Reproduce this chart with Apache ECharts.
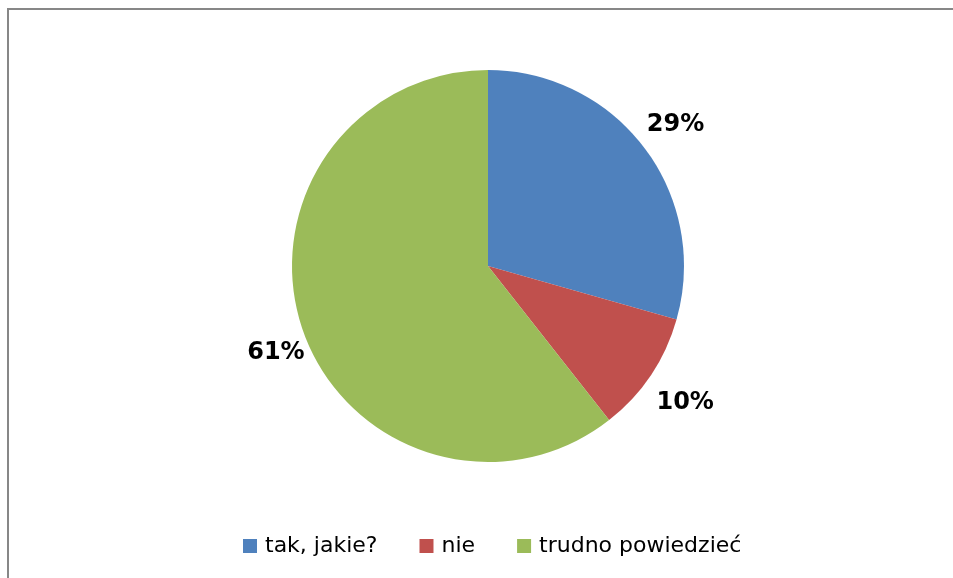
<!DOCTYPE html>
<html>
<head>
<meta charset="utf-8">
<script src="https://cdn.jsdelivr.net/npm/echarts@6/dist/echarts.min.js"></script>
<style>
    html, body {
        margin: 0;
        padding: 0;
        background: #ffffff;
        overflow: hidden;
    }
    .frame {
        position: absolute;
        left: 7px;
        top: 8px;
        width: 1000px;
        height: 700px;
        border-left: 2px solid #878787;
        border-top: 2px solid #878787;
    }
    .chart-container {
        position: absolute;
        left: 0;
        top: 0;
        width: 953px;
        height: 578px;
    }
</style>
</head>
<body>
<div class="frame"></div>
<div class="chart-container" id="chart"></div>
<script>
const categories = ['tak, jakie?', 'nie', 'trudno powiedzieć'];
const shares = [29.4, 10.0, 60.6];
const colors = ['#4f81bd', '#c0504d', '#9bbb59'];
// small nudges so the labels sit where Excel put them
const labelOffsets = [[0, 0], [2, 6], [10, 10]];

const pieData = categories.map((name, i) => ({
    name: name,
    value: shares[i],
    itemStyle: { color: colors[i] }
}));

const chart = echarts.init(document.getElementById('chart'));

chart.setOption({
    animation: false,
    legend: {
        data: categories,
        top: 530,
        left: 238,
        itemWidth: 14,
        itemHeight: 14,
        itemGap: 42,
        icon: 'rect',
        textStyle: {
            fontFamily: 'DejaVu Sans',
            fontSize: 22,
            color: '#000000',
            padding: [0, 0, 0, 3]
        }
    },
    series: [
        {
            type: 'pie',
            center: [488, 266],
            radius: [0, 196],
            startAngle: 90,
            clockwise: true,
            silent: true,
            label: { show: false },
            labelLine: { show: false },
            data: pieData
        },
        {
            // transparent ring that only carries the percentage labels
            type: 'pie',
            center: [488, 266],
            radius: [196, 268],
            startAngle: 90,
            clockwise: true,
            silent: true,
            legendHoverLink: false,
            itemStyle: { color: 'rgba(0,0,0,0)' },
            label: {
                show: true,
                position: 'inside',
                fontFamily: 'DejaVu Sans',
                fontSize: 24,
                fontWeight: 'bold',
                color: '#000000',
                formatter: (p) => Math.round(p.value) + '%'
            },
            labelLine: { show: false },
            data: categories.map((name, i) => ({
                name: name,
                value: shares[i],
                label: { offset: labelOffsets[i] }
            }))
        }
    ]
});
</script>
</body>
</html>
